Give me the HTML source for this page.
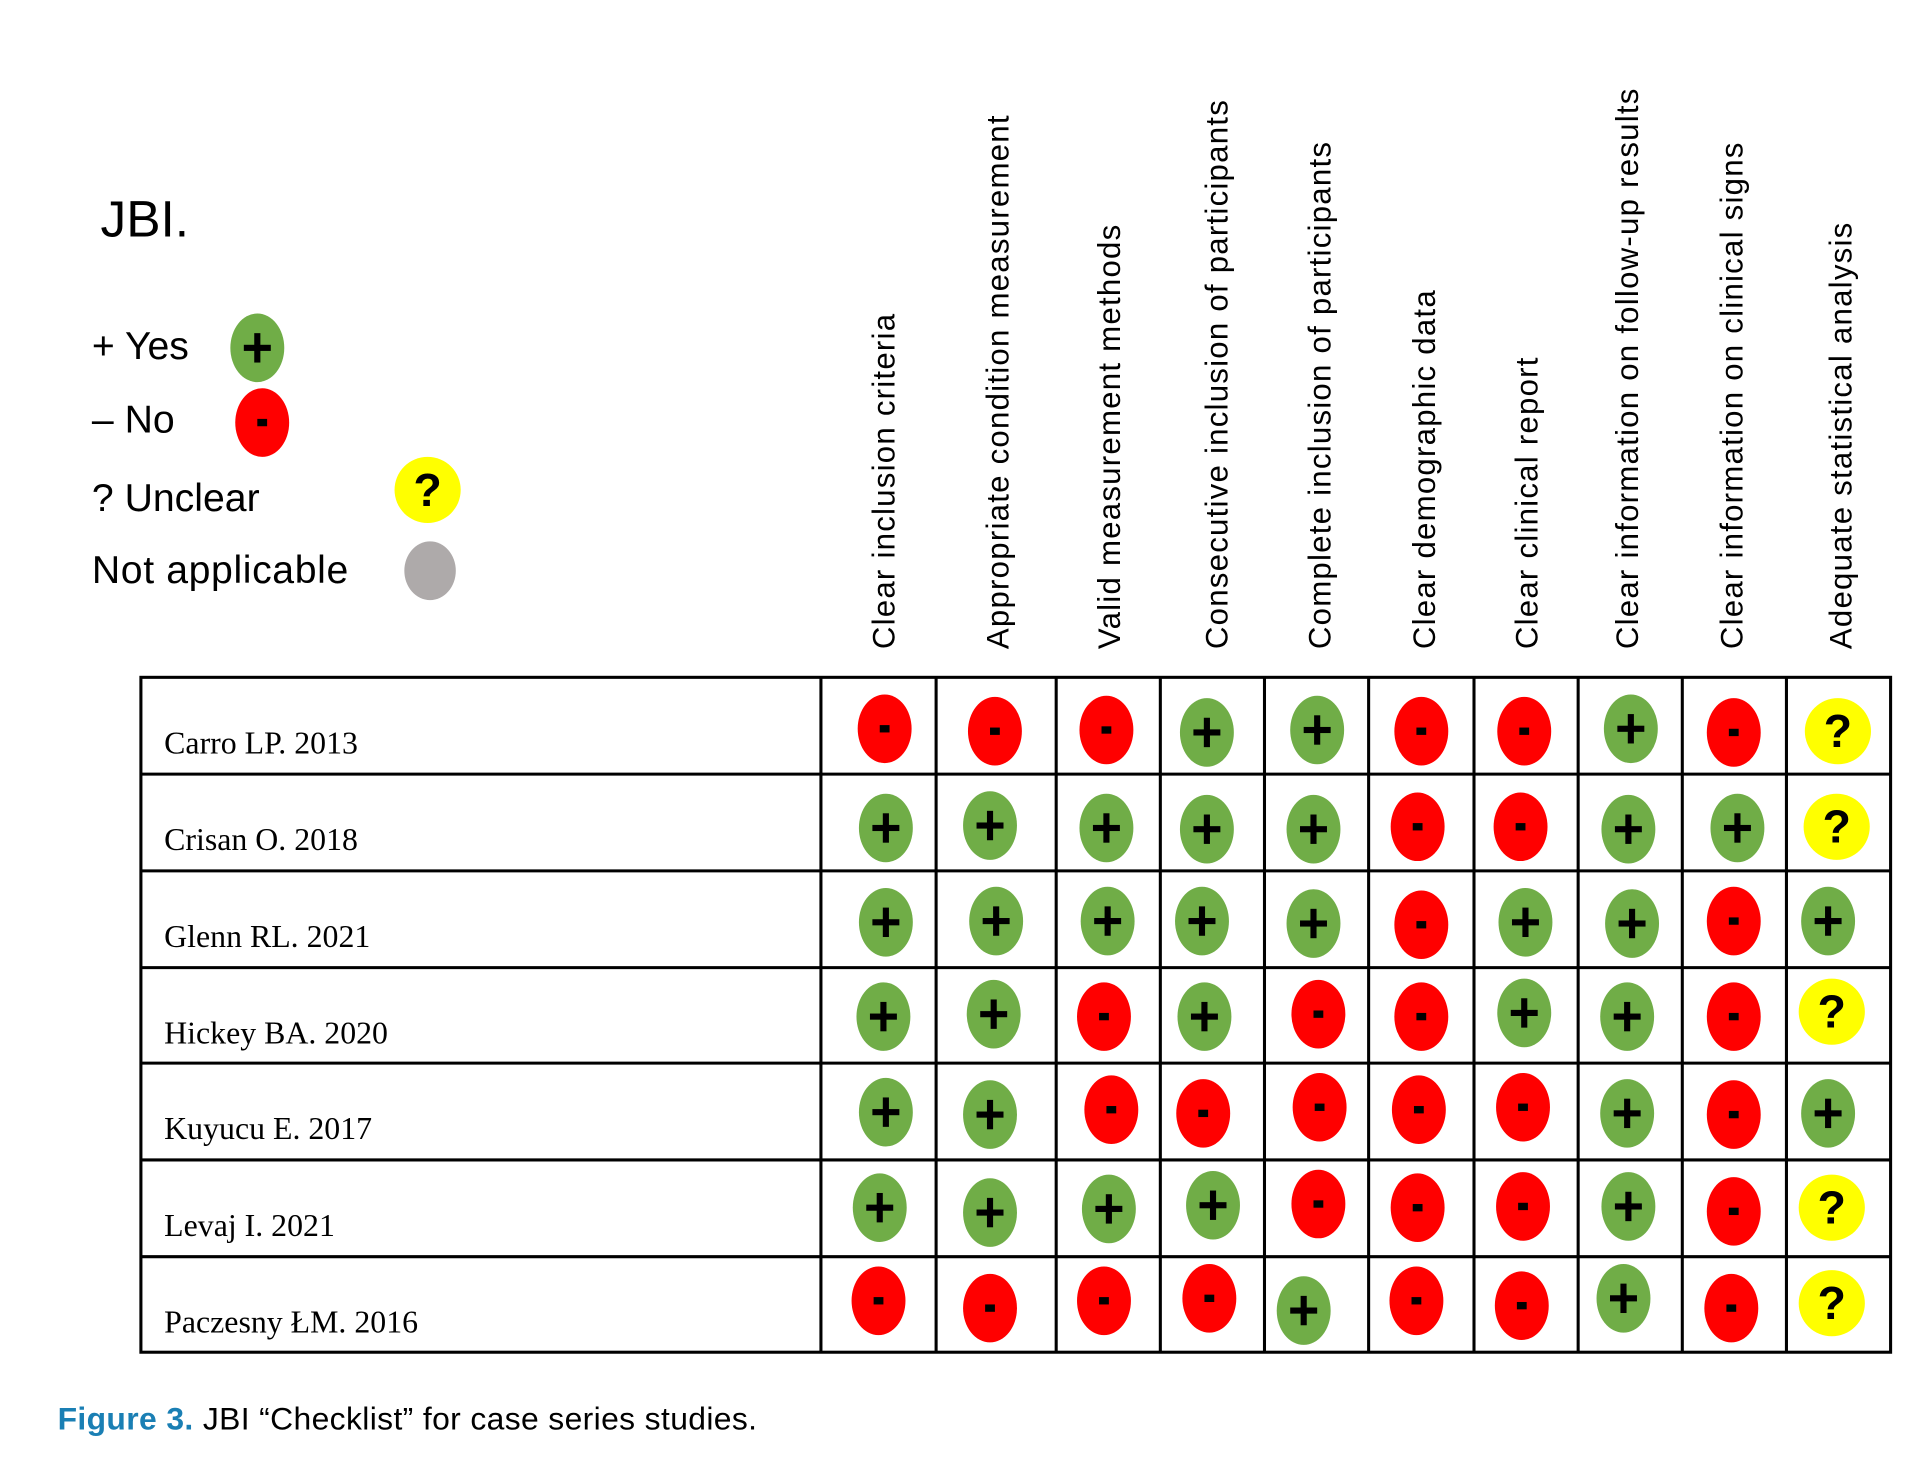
<!DOCTYPE html>
<html><head><meta charset="utf-8"><style>html,body{margin:0;padding:0;background:#fff}svg{display:block}</style></head>
<body>
<svg width="1920" height="1460" viewBox="0 0 1567 1192" preserveAspectRatio="none" xmlns="http://www.w3.org/2000/svg">
<defs>
<g id="p"><ellipse rx="22" ry="28" fill="#70ad47"/><rect x="-2.5" y="-12" width="5" height="24" fill="#000"/><rect x="-11" y="-2.5" width="22" height="5" fill="#000"/></g>
<g id="m"><ellipse rx="22" ry="28" fill="#ff0000"/><rect x="-4" y="-3" width="8" height="6" fill="#000"/></g>
<g id="q"><ellipse rx="27" ry="27" fill="#ffff00"/><text x="0" y="13" text-anchor="middle" font-family="Liberation Sans, sans-serif" font-weight="bold" font-size="38" fill="#000">?</text></g>
</defs>
<text x="82" y="193" font-family="Liberation Sans, sans-serif" font-size="42" fill="#000">JBI.</text>
<g font-family="Liberation Sans, sans-serif" font-size="32" fill="#000">
<text x="75" y="293">+ Yes</text><text x="75" y="353">– No</text><text x="75" y="417">? Unclear</text><text x="75" y="476" letter-spacing="0.5">Not applicable</text>
</g>
<use href="#p" x="210" y="284"/><use href="#m" x="214" y="345"/><use href="#q" x="349" y="400"/>
<ellipse cx="351" cy="466" rx="21" ry="24" fill="#aeaaaa"/>
<g font-family="Liberation Sans, sans-serif" font-size="25.5" letter-spacing="1" fill="#000">
<text transform="translate(730,530) rotate(-90)">Clear inclusion criteria</text>
<text transform="translate(823,530) rotate(-90)">Appropriate condition measurement</text>
<text transform="translate(914,530) rotate(-90)">Valid measurement methods</text>
<text transform="translate(1002,530) rotate(-90)">Consecutive inclusion of participants</text>
<text transform="translate(1086,530) rotate(-90)">Complete inclusion of participants</text>
<text transform="translate(1171,530) rotate(-90)">Clear demographic data</text>
<text transform="translate(1255,530) rotate(-90)">Clear clinical report</text>
<text transform="translate(1337,530) rotate(-90)">Clear information on follow-up results</text>
<text transform="translate(1422,530) rotate(-90)">Clear information on clinical signs</text>
<text transform="translate(1511,530) rotate(-90)">Adequate statistical analysis</text>
</g>
<g stroke="#000" stroke-width="2.5" fill="none">
<rect x="115" y="553" width="1428" height="551"/>
<path d="M115 632H1543M115 711H1543M115 790H1543M115 868H1543M115 947H1543M115 1026H1543"/>
<path d="M670 553V1104M764 553V1104M862 553V1104M947 553V1104M1032 553V1104M1117 553V1104M1203 553V1104M1288 553V1104M1373 553V1104M1458 553V1104"/>
</g>
<g font-family="Liberation Serif, serif" font-size="26" fill="#000">
<text x="134" y="615">Carro LP. 2013</text><text x="134" y="694">Crisan O. 2018</text><text x="134" y="773">Glenn RL. 2021</text><text x="134" y="852">Hickey BA. 2020</text><text x="134" y="930">Kuyucu E. 2017</text><text x="134" y="1009">Levaj I. 2021</text><text x="134" y="1088">Paczesny ŁM. 2016</text>
</g>
<g>
<use href="#m" x="722" y="595"/><use href="#m" x="812" y="597"/><use href="#m" x="903" y="596"/><use href="#p" x="985" y="598"/><use href="#p" x="1075" y="596"/><use href="#m" x="1160" y="597"/><use href="#m" x="1244" y="597"/><use href="#p" x="1331" y="595"/><use href="#m" x="1415" y="598"/><use href="#q" x="1500" y="597"/>
<use href="#p" x="723" y="676"/><use href="#p" x="808" y="674"/><use href="#p" x="903" y="676"/><use href="#p" x="985" y="677"/><use href="#p" x="1072" y="677"/><use href="#m" x="1157" y="675"/><use href="#m" x="1241" y="675"/><use href="#p" x="1329" y="677"/><use href="#p" x="1418" y="676"/><use href="#q" x="1499" y="675"/>
<use href="#p" x="723" y="753"/><use href="#p" x="813" y="752"/><use href="#p" x="904" y="752"/><use href="#p" x="981" y="752"/><use href="#p" x="1072" y="754"/><use href="#m" x="1160" y="755"/><use href="#p" x="1245" y="753"/><use href="#p" x="1332" y="754"/><use href="#m" x="1415" y="752"/><use href="#p" x="1492" y="752"/>
<use href="#p" x="721" y="830"/><use href="#p" x="811" y="828"/><use href="#m" x="901" y="830"/><use href="#p" x="983" y="830"/><use href="#m" x="1076" y="828"/><use href="#m" x="1160" y="830"/><use href="#p" x="1244" y="827"/><use href="#p" x="1328" y="830"/><use href="#m" x="1415" y="830"/><use href="#q" x="1495" y="826"/>
<use href="#p" x="723" y="908"/><use href="#p" x="808" y="910"/><use href="#m" x="907" y="906"/><use href="#m" x="982" y="909"/><use href="#m" x="1077" y="904"/><use href="#m" x="1158" y="906"/><use href="#m" x="1243" y="904"/><use href="#p" x="1328" y="909"/><use href="#m" x="1415" y="910"/><use href="#p" x="1492" y="909"/>
<use href="#p" x="718" y="986"/><use href="#p" x="808" y="990"/><use href="#p" x="905" y="987"/><use href="#p" x="990" y="984"/><use href="#m" x="1076" y="983"/><use href="#m" x="1157" y="986"/><use href="#m" x="1243" y="985"/><use href="#p" x="1329" y="985"/><use href="#m" x="1415" y="989"/><use href="#q" x="1495" y="986"/>
<use href="#m" x="717" y="1062"/><use href="#m" x="808" y="1068"/><use href="#m" x="901" y="1062"/><use href="#m" x="987" y="1060"/><use href="#p" x="1064" y="1070"/><use href="#m" x="1156" y="1062"/><use href="#m" x="1242" y="1066"/><use href="#p" x="1325" y="1060"/><use href="#m" x="1413" y="1068"/><use href="#q" x="1495" y="1064"/>
</g>
<text x="47" y="1167" font-family="Liberation Sans, sans-serif" font-size="26" letter-spacing="0.3" fill="#000"><tspan fill="#1a7fb4" font-weight="bold">Figure 3.</tspan> JBI “Checklist” for case series studies.</text>
</svg>
</body></html>
